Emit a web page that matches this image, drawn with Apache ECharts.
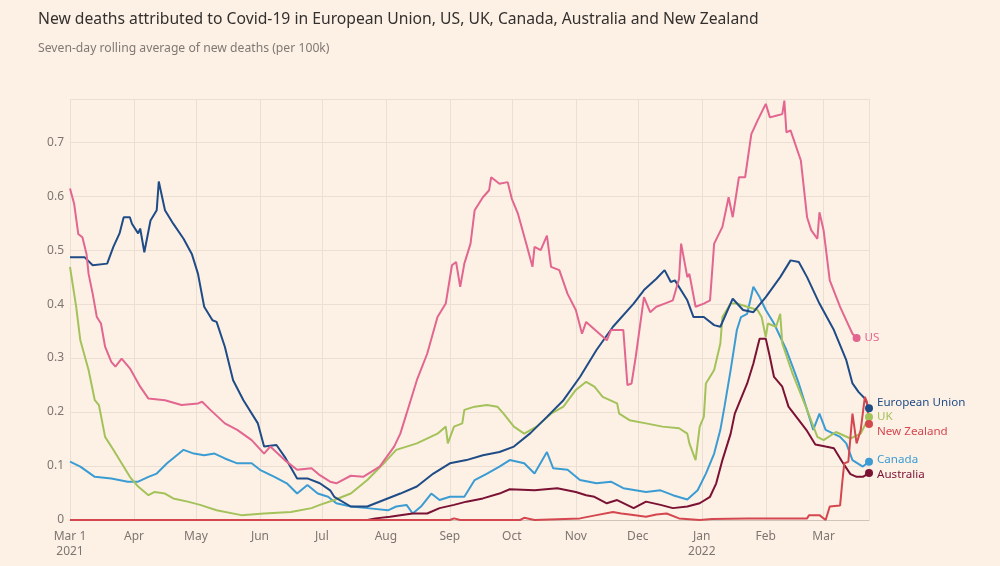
<!DOCTYPE html>
<html><head><meta charset="utf-8">
<script src="https://cdn.jsdelivr.net/npm/echarts@6/dist/echarts.min.js"></script>
<style>html,body{margin:0;padding:0;background:#fdf1e6;}#c{width:1000px;height:566px;}</style>
</head><body><div id="c"></div>
<script>
// Day offsets are counted from 1 March 2021
const START = [2021, 2, 1];
const AXIS_END_DAY = 387;
const TITLE = 'New deaths attributed to Covid-19 in European Union, US, UK, Canada, Australia and New Zealand';
const SUBTITLE = 'Seven-day rolling average of new deaths (per 100k)';
const monthLabels = ['Mar 1\n2021','Apr','May','Jun','Jul','Aug','Sep','Oct','Nov','Dec','Jan\n2022','Feb','Mar'];

const EU = [[0,0.487],[7,0.487],[11,0.472],[18,0.475],[21,0.506],[24,0.531],[26,0.561],[29,0.561],[30,0.549],[33,0.531],[34,0.54],[36,0.496],[39,0.555],[42,0.574],[43,0.627],[46,0.574],[50,0.549],[55,0.521],[59,0.493],[62,0.456],[65,0.395],[69,0.37],[71,0.367],[75,0.321],[79,0.259],[84,0.222],[91,0.179],[94,0.136],[100,0.139],[104,0.117],[110,0.077],[115,0.077],[121,0.068],[126,0.055],[128,0.043],[136,0.025],[144,0.025],[152,0.037],[160,0.049],[168,0.062],[176,0.086],[184,0.105],[192,0.111],[200,0.12],[208,0.126],[215,0.136],[223,0.161],[231,0.191],[239,0.222],[247,0.265],[255,0.315],[263,0.358],[273,0.401],[278,0.426],[284,0.447],[288,0.463],[291,0.441],[293,0.444],[299,0.407],[302,0.376],[307,0.376],[312,0.361],[315,0.358],[321,0.41],[326,0.389],[331,0.385],[337,0.413],[344,0.45],[349,0.481],[353,0.478],[357,0.45],[363,0.401],[370,0.352],[376,0.296],[379,0.253],[382,0.237],[385,0.225],[387,0.207]];

const US = [[0,0.614],[2,0.586],[4,0.53],[6,0.524],[8,0.493],[9,0.456],[11,0.419],[13,0.376],[15,0.364],[17,0.321],[20,0.293],[22,0.284],[25,0.299],[29,0.281],[34,0.247],[38,0.225],[46,0.222],[54,0.213],[62,0.216],[64,0.219],[68,0.204],[75,0.179],[81,0.167],[88,0.148],[94,0.123],[97,0.136],[104,0.111],[110,0.093],[117,0.096],[121,0.083],[126,0.071],[129,0.068],[136,0.082],[142,0.08],[150,0.099],[157,0.136],[160,0.16],[163,0.197],[168,0.259],[173,0.308],[178,0.376],[182,0.401],[185,0.472],[187,0.478],[189,0.432],[191,0.475],[194,0.512],[196,0.574],[200,0.598],[203,0.611],[204,0.635],[208,0.623],[212,0.626],[214,0.595],[217,0.567],[221,0.512],[224,0.469],[225,0.506],[228,0.5],[231,0.527],[233,0.469],[237,0.463],[241,0.419],[245,0.389],[248,0.345],[250,0.367],[260,0.333],[262,0.352],[268,0.352],[270,0.25],[272,0.253],[274,0.302],[278,0.413],[281,0.385],[284,0.395],[288,0.401],[292,0.407],[295,0.447],[296,0.512],[299,0.45],[300,0.456],[303,0.395],[307,0.401],[310,0.407],[312,0.512],[316,0.543],[319,0.598],[321,0.561],[324,0.635],[327,0.635],[330,0.715],[333,0.74],[337,0.771],[339,0.746],[342,0.749],[345,0.752],[346,0.777],[347,0.718],[349,0.722],[354,0.666],[357,0.561],[359,0.537],[362,0.521],[363,0.57],[365,0.537],[368,0.444],[373,0.395],[376,0.37],[379,0.345],[381,0.337]];

const UK = [[0,0.469],[3,0.395],[5,0.333],[9,0.278],[12,0.222],[14,0.213],[17,0.154],[21,0.13],[25,0.105],[29,0.08],[33,0.062],[38,0.046],[41,0.052],[46,0.049],[50,0.04],[57,0.034],[63,0.028],[71,0.018],[83,0.009],[94,0.012],[107,0.015],[117,0.022],[121,0.028],[128,0.037],[136,0.049],[144,0.074],[152,0.105],[158,0.13],[168,0.142],[178,0.16],[182,0.173],[183,0.142],[186,0.173],[190,0.179],[191,0.204],[196,0.21],[202,0.213],[207,0.21],[210,0.197],[215,0.173],[220,0.16],[226,0.173],[233,0.197],[239,0.21],[245,0.241],[250,0.256],[254,0.247],[258,0.228],[265,0.216],[266,0.197],[271,0.185],[279,0.179],[287,0.173],[295,0.17],[299,0.16],[300,0.142],[303,0.111],[305,0.173],[307,0.191],[308,0.253],[312,0.278],[315,0.327],[316,0.376],[320,0.401],[323,0.401],[328,0.395],[333,0.389],[335,0.376],[337,0.339],[338,0.364],[342,0.358],[344,0.382],[345,0.327],[350,0.271],[357,0.204],[362,0.154],[365,0.148],[371,0.163],[378,0.151],[383,0.16],[387,0.191]];

const CANADA = [[0,0.108],[5,0.099],[12,0.08],[20,0.077],[28,0.071],[33,0.071],[38,0.08],[42,0.086],[47,0.105],[55,0.13],[60,0.123],[65,0.12],[70,0.123],[75,0.114],[81,0.105],[88,0.105],[92,0.093],[99,0.08],[105,0.068],[110,0.049],[115,0.065],[120,0.049],[125,0.043],[129,0.031],[136,0.025],[144,0.022],[154,0.018],[158,0.025],[163,0.028],[166,0.012],[170,0.025],[175,0.049],[179,0.037],[184,0.043],[191,0.043],[196,0.074],[202,0.086],[208,0.099],[213,0.111],[220,0.105],[225,0.086],[231,0.126],[234,0.096],[241,0.093],[247,0.074],[255,0.068],[262,0.071],[268,0.059],[279,0.052],[286,0.055],[292,0.046],[299,0.038],[304,0.055],[308,0.086],[312,0.123],[315,0.167],[317,0.21],[320,0.278],[323,0.352],[325,0.376],[328,0.382],[331,0.432],[334,0.413],[337,0.389],[341,0.364],[347,0.315],[350,0.284],[353,0.253],[357,0.204],[360,0.167],[363,0.197],[366,0.167],[373,0.154],[376,0.142],[379,0.111],[384,0.099],[387,0.108]];

const AUSTRALIA = [[0,0],[144,0],[148,0.003],[155,0.006],[160,0.009],[166,0.012],[173,0.012],[179,0.022],[186,0.028],[192,0.034],[200,0.04],[208,0.049],[213,0.057],[225,0.055],[236,0.059],[245,0.052],[250,0.046],[254,0.043],[260,0.031],[265,0.037],[273,0.022],[279,0.034],[286,0.028],[292,0.022],[299,0.025],[305,0.031],[310,0.043],[313,0.068],[316,0.111],[320,0.16],[322,0.197],[328,0.253],[331,0.29],[334,0.336],[337,0.336],[339,0.302],[341,0.265],[345,0.247],[348,0.21],[352,0.19],[357,0.165],[361,0.14],[366,0.136],[370,0.133],[374,0.108],[378,0.085],[381,0.08],[384,0.08],[387,0.087]];

const NZ = [[0,0],[184,0],[186,0.003],[189,0],[218,0],[220,0.004],[225,0],[247,0.003],[255,0.009],[263,0.015],[267,0.012],[271,0.01],[279,0.006],[284,0.01],[289,0.012],[295,0.003],[305,0],[311,0.002],[328,0.003],[357,0.003],[358,0.009],[363,0.009],[366,0],[368,0.025],[373,0.027],[374,0.068],[375,0.105],[377,0.108],[379,0.197],[381,0.142],[383,0.167],[385,0.228],[386,0.219],[387,0.178]];

const COLORS = {eu:'#1f4b86', us:'#e2668f', uk:'#a4c25a', ca:'#3b9cd3', au:'#7b1234', nz:'#d4474f'};

function toTime(d){ return new Date(START[0], START[1], START[2] + d).getTime(); }
function mk(arr){
  return arr.map((p, i) => i === arr.length - 1
    ? {value:[toTime(p[0]), p[1]], symbol:'circle', symbolSize:8}
    : {value:[toTime(p[0]), p[1]], symbol:'none'});
}

function lineSeries(name, arr, color, off){
  return {
    name, type:'line', data: mk(arr), showSymbol:true, showAllSymbol:true, silent:true,
    lineStyle:{width:2, color}, itemStyle:{color, borderWidth:0},
    emphasis:{disabled:true},
    endLabel:{show:true, offset: off, distance: 8, color,
      fontSize:11.6, fontFamily:'Noto Sans', formatter: name}
  };
}

const chart = echarts.init(document.getElementById('c'), null, {renderer:'canvas'});
chart.setOption({
  backgroundColor:'#fdf1e6',
  animation:false,
  textStyle:{fontFamily:'Noto Sans'},
  title:{
    text: TITLE, subtext: SUBTITLE, left: 33, top: 7, itemGap: 15,
    textStyle:{fontSize:15.7, fontWeight:'normal', color:'#33302e', fontFamily:'Noto Sans'},
    subtextStyle:{fontSize:12.2, color:'#807872', fontFamily:'Noto Sans'}
  },
  grid:{left:70, right:131, top:99, bottom:46, containLabel:false},
  xAxis:{
    type:'time', min: toTime(0), max: toTime(AXIS_END_DAY), splitNumber: 13,
    minInterval: 28*86400000, maxInterval: 31*86400000,
    axisLine:{show:true, lineStyle:{color:'#cfc4ba', width:1}},
    axisTick:{show:false},
    splitLine:{show:true, lineStyle:{color:'#ebdfd3', width:1}},
    axisLabel:{
      color:'#7d756f', fontSize:12, margin:9, lineHeight:15, showMinLabel:true, showMaxLabel:false, hideOverlap:false,
      formatter: function(v){
        const d = new Date(v);
        const i = (d.getFullYear()-2021)*12 + d.getMonth() - 2;
        return (i>=0 && i<monthLabels.length) ? monthLabels[i] : '';
      }
    }
  },
  yAxis:{
    type:'value', min:0, max:0.78, interval:0.1,
    axisLine:{show:false}, axisTick:{show:false},
    splitLine:{lineStyle:{color:'#ebdfd3', width:1}},
    axisLabel:{color:'#7d756f', fontSize:12, margin:6, showMaxLabel:false}
  },
  series:[
    lineSeries('Canada', CANADA, COLORS.ca, [0,-2]),
    lineSeries('UK', UK, COLORS.uk, [0,0]),
    lineSeries('European Union', EU, COLORS.eu, [0,-6]),
    lineSeries('Australia', AUSTRALIA, COLORS.au, [0,2]),
    lineSeries('US', US, COLORS.us, [0,0]),
    lineSeries('New Zealand', NZ, COLORS.nz, [0,8])
  ]
});
</script>
</body></html>
